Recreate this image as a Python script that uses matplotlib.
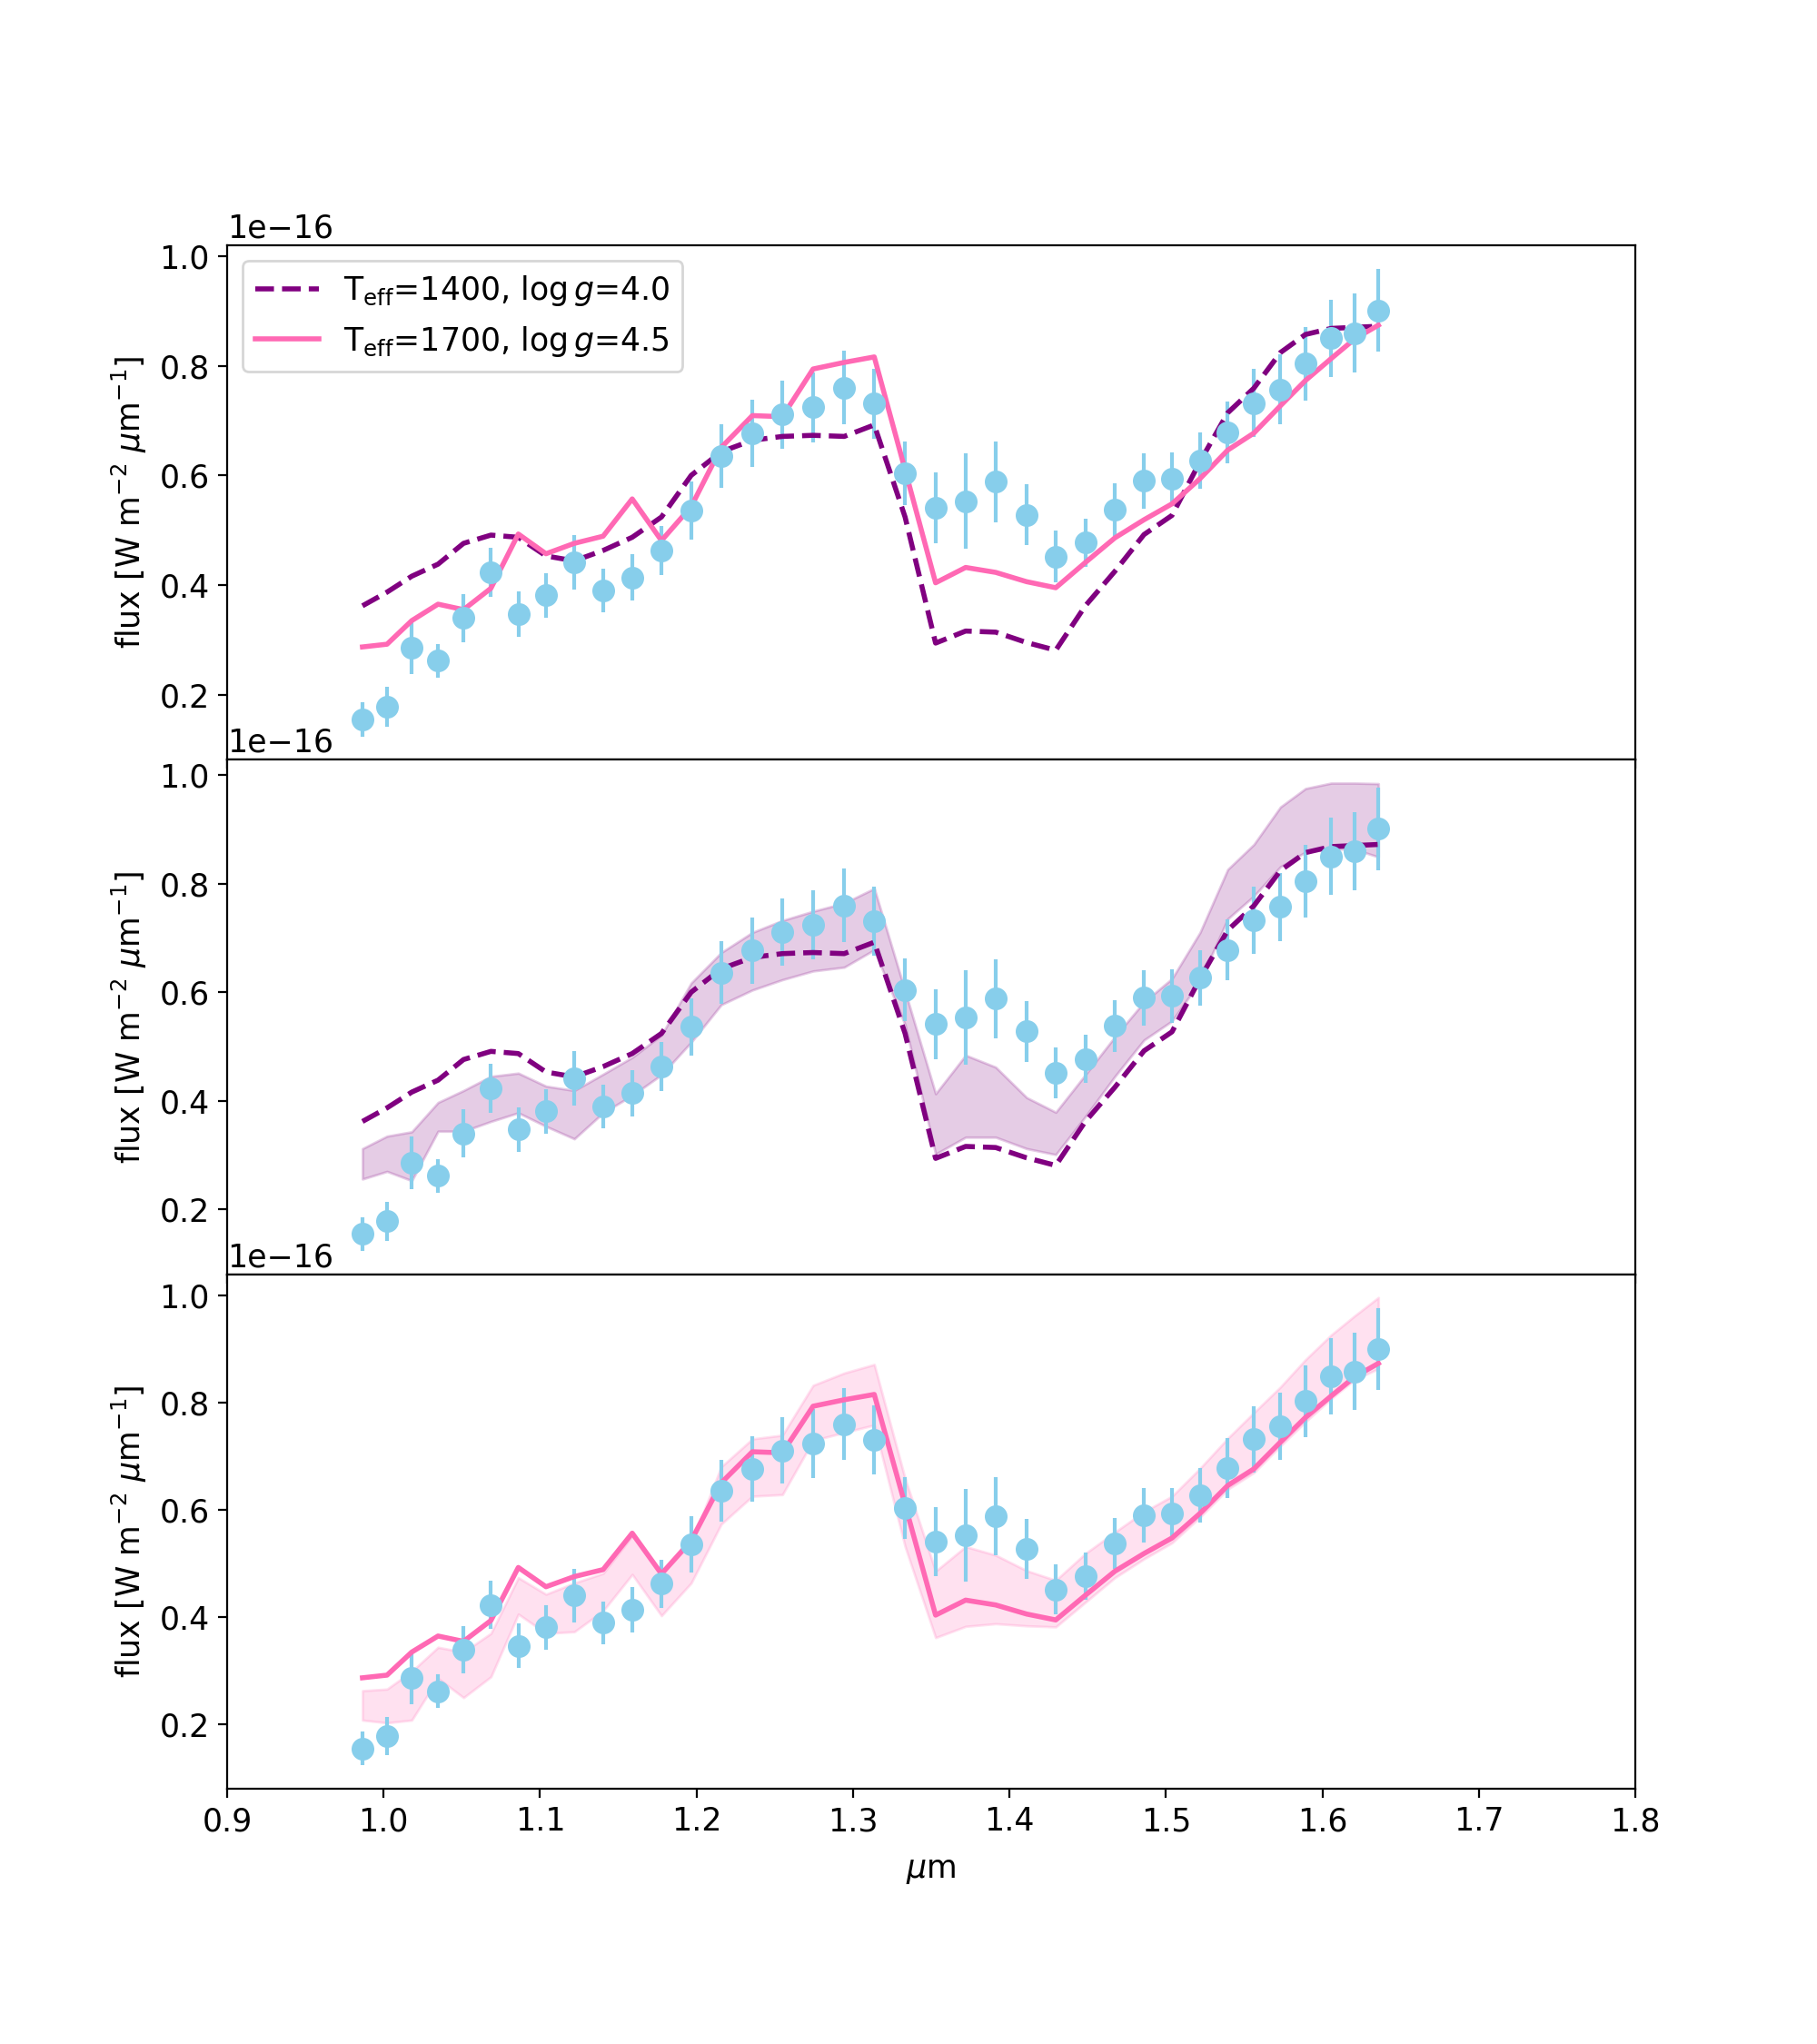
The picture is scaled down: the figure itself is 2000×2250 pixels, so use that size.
import matplotlib
matplotlib.use('Agg')
import matplotlib.pyplot as plt
import numpy as np

# wavelength grid [micron]
wave = [0.9865, 1.0022, 1.0180, 1.0348, 1.0511, 1.0686, 1.0861, 1.1038, 1.1219, 1.1403,
        1.1589, 1.1776, 1.1966, 1.2158, 1.2357, 1.2549, 1.2745, 1.2944, 1.3136, 1.3333,
        1.3528, 1.3720, 1.3912, 1.4110, 1.4296, 1.4485, 1.4674, 1.4860, 1.5039, 1.5218,
        1.5395, 1.5562, 1.5732, 1.5892, 1.6056, 1.6207, 1.6358]

# observed spectrum (units of 1e-16 W m-2 um-1)
flux = [0.155, 0.178, 0.286, 0.262, 0.340, 0.423, 0.347, 0.381, 0.441, 0.390,
        0.414, 0.463, 0.536, 0.636, 0.677, 0.711, 0.724, 0.760, 0.731, 0.604,
        0.541, 0.553, 0.588, 0.528, 0.452, 0.477, 0.538, 0.590, 0.593, 0.627,
        0.678, 0.732, 0.757, 0.804, 0.850, 0.859, 0.901]
flux_err = [0.031, 0.036, 0.048, 0.031, 0.044, 0.045, 0.041, 0.041, 0.050, 0.040,
            0.043, 0.045, 0.053, 0.058, 0.061, 0.062, 0.064, 0.067, 0.064, 0.058,
            0.065, 0.087, 0.073, 0.056, 0.047, 0.044, 0.048, 0.051, 0.049, 0.051,
            0.056, 0.062, 0.063, 0.067, 0.071, 0.072, 0.076]

# best model Teff=1400, logg=4.0
model_1400 = [0.362, 0.387, 0.416, 0.438, 0.476, 0.491, 0.487, 0.453, 0.444, 0.463,
              0.487, 0.524, 0.600, 0.643, 0.664, 0.671, 0.673, 0.671, 0.692, 0.524,
              0.294, 0.316, 0.314, 0.295, 0.281, 0.362, 0.425, 0.492, 0.527, 0.625,
              0.714, 0.759, 0.824, 0.857, 0.868, 0.870, 0.872]
band_1400_lo = [0.256, 0.270, 0.253, 0.344, 0.344, 0.362, 0.378, 0.353, 0.330, 0.378,
                0.410, 0.448, 0.508, 0.577, 0.604, 0.623, 0.639, 0.646, 0.678, 0.540,
                0.302, 0.333, 0.333, 0.312, 0.301, 0.371, 0.445, 0.512, 0.547, 0.620,
                0.735, 0.777, 0.831, 0.858, 0.864, 0.863, 0.849]
band_1400_hi = [0.312, 0.335, 0.343, 0.397, 0.419, 0.445, 0.451, 0.427, 0.419, 0.449,
                0.480, 0.521, 0.617, 0.673, 0.710, 0.732, 0.749, 0.764, 0.791, 0.602,
                0.413, 0.484, 0.462, 0.406, 0.379, 0.448, 0.518, 0.582, 0.625, 0.710,
                0.826, 0.872, 0.941, 0.975, 0.985, 0.985, 0.984]

# best model Teff=1700, logg=4.5
model_1700 = [0.287, 0.292, 0.335, 0.365, 0.355, 0.394, 0.493, 0.457, 0.476, 0.489,
              0.557, 0.481, 0.543, 0.651, 0.709, 0.707, 0.794, 0.806, 0.816, 0.610,
              0.404, 0.432, 0.423, 0.406, 0.395, 0.441, 0.486, 0.519, 0.548, 0.594,
              0.646, 0.677, 0.727, 0.773, 0.813, 0.849, 0.874]
band_1700_lo = [0.208, 0.203, 0.208, 0.286, 0.250, 0.289, 0.406, 0.370, 0.373, 0.412,
                0.480, 0.403, 0.464, 0.574, 0.626, 0.629, 0.730, 0.745, 0.759, 0.532,
                0.362, 0.383, 0.388, 0.384, 0.382, 0.428, 0.474, 0.509, 0.539, 0.587,
                0.639, 0.670, 0.720, 0.765, 0.808, 0.844, 0.864]
band_1700_hi = [0.263, 0.266, 0.299, 0.344, 0.335, 0.370, 0.474, 0.443, 0.464, 0.482,
                0.552, 0.480, 0.539, 0.681, 0.733, 0.740, 0.833, 0.856, 0.872, 0.659,
                0.486, 0.532, 0.516, 0.487, 0.469, 0.519, 0.559, 0.597, 0.626, 0.678,
                0.734, 0.782, 0.830, 0.881, 0.927, 0.963, 0.997]

plt.rcParams['font.size'] = 12.5

scale = 1e-16
w = np.array(wave)
f = np.array(flux) * scale
ferr = np.array(flux_err) * scale

lab1 = r'T$_{\rm eff}$=1400, $\log g$=4.0'
lab2 = r'T$_{\rm eff}$=1700, $\log g$=4.5'
ylab = r'flux [W m$^{-2}$ $\mu$m$^{-1}$]'

fig, axes = plt.subplots(3, 1, figsize=(10, 11.25), dpi=200, sharex=True)
plt.subplots_adjust(hspace=0, bottom=0.125, top=0.88)

# top: both models
ax = axes[0]
ax.errorbar(w, f, yerr=ferr, fmt='o', color='skyblue', ms=8)
ax.plot(w, np.array(model_1400) * scale, '--', color='purple', lw=2, label=lab1)
ax.plot(w, np.array(model_1700) * scale, '-', color='hotpink', lw=2, label=lab2)
ax.legend(loc='upper left', fontsize=12.5)

# middle: 1400 K with band
ax = axes[1]
ax.errorbar(w, f, yerr=ferr, fmt='o', color='skyblue', ms=8)
ax.fill_between(w, np.array(band_1400_lo) * scale, np.array(band_1400_hi) * scale,
                color='purple', alpha=0.2)
ax.plot(w, np.array(model_1400) * scale, '--', color='purple', lw=2)

# bottom: 1700 K with band
ax = axes[2]
ax.errorbar(w, f, yerr=ferr, fmt='o', color='skyblue', ms=8)
ax.fill_between(w, np.array(band_1700_lo) * scale, np.array(band_1700_hi) * scale,
                color='hotpink', alpha=0.2)
ax.plot(w, np.array(model_1700) * scale, '-', color='hotpink', lw=2)

for ax in axes:
    ax.set_ylabel(ylab)
    ax.set_xlim(0.9, 1.8)
axes[2].set_xlabel(r'$\mu$m', labelpad=7)

plt.savefig('out.png', dpi=200)
